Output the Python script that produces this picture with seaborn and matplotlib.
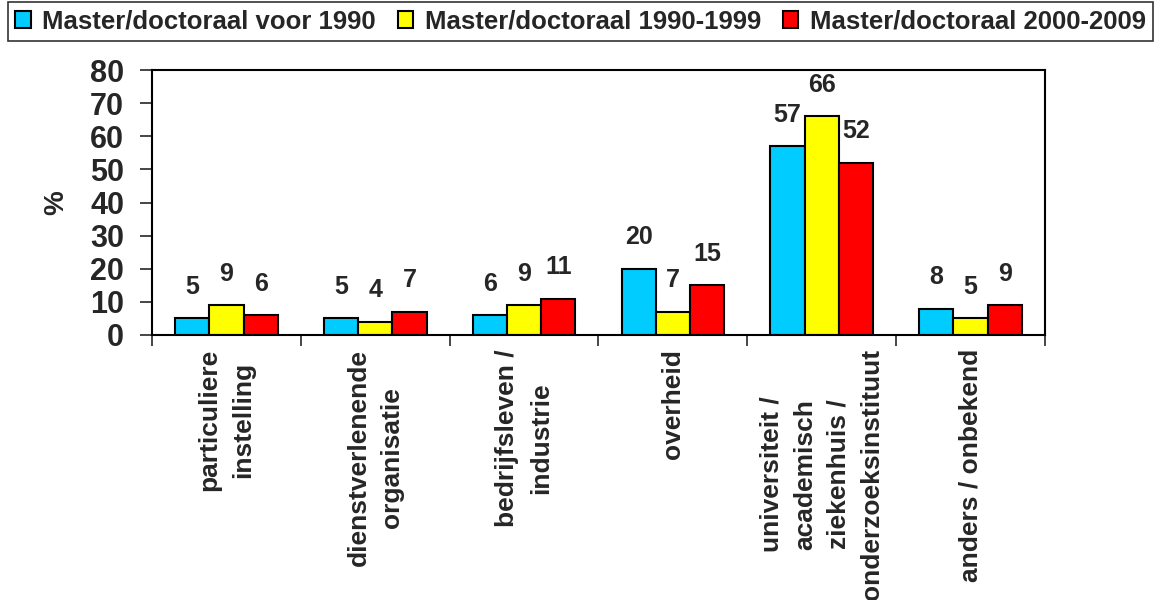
#!/usr/bin/env python3
import matplotlib
matplotlib.use("Agg")
import matplotlib.pyplot as plt
from matplotlib.patches import Patch
import numpy as np
import pandas as pd
import seaborn as sns

CATEGORIES = [
    "particuliere\ninstelling",
    "dienstverlenende\norganisatie",
    "bedrijfsleven /\nindustrie",
    "overheid",
    "universiteit /\nacademisch\nziekenhuis /\nonderzoeksinstituut",
    "anders / onbekend",
]
SERIES = [
    "Master/doctoraal voor 1990",
    "Master/doctoraal 1990-1999",
    "Master/doctoraal 2000-2009",
]
VOOR_1990 = [5, 5, 6, 20, 57, 8]
JAREN_90 = [9, 4, 9, 7, 66, 5]
JAREN_00 = [6, 7, 11, 15, 52, 9]
YTICKS = [0, 10, 20, 30, 40, 50, 60, 70, 80]

COLORS = ["#00CCFF", "#FFFF00", "#FF0000"]
BLACK = "#000000"
FONT = "Liberation Sans"


def build_frame() -> pd.DataFrame:
    rows = []
    for name, vals in zip(SERIES, [VOOR_1990, JAREN_90, JAREN_00]):
        for cat, v in zip(CATEGORIES, vals):
            rows.append({"categorie": cat, "reeks": name, "pct": v})
    return pd.DataFrame(rows)


def main() -> None:
    sns.set_style("white")
    plt.rcParams["font.family"] = [FONT, "DejaVu Sans"]
    plt.rcParams["font.weight"] = "bold"

    df = build_frame()
    fig = plt.figure(figsize=(11.61, 6.0), dpi=100)
    ax = fig.add_axes([152 / 1161, 1 - 335 / 600, 893 / 1161, 265 / 600])

    sns.barplot(
        data=df,
        x="categorie",
        y="pct",
        hue="reeks",
        order=CATEGORIES,
        hue_order=SERIES,
        palette=COLORS,
        saturation=1,
        width=0.69,
        edgecolor=BLACK,
        linewidth=1.5,
        errorbar=None,
        legend=False,
        ax=ax,
    )
    for cont in ax.containers:
        ax.bar_label(cont, fmt="%.0f", padding=14, fontsize=18, fontweight="bold")

    ax.set_xlim(-0.5, len(CATEGORIES) - 0.5)
    ax.set_ylim(0, 80)
    ax.set_yticks(YTICKS)
    ax.set_yticklabels([str(t) for t in YTICKS], fontsize=22, fontweight="bold")
    ax.tick_params(axis="y", direction="out", length=9, width=1.2, pad=11, left=True)

    ax.set_xticks(np.arange(len(CATEGORIES)))
    ax.set_xticklabels(CATEGORIES, rotation=90, fontsize=19, fontweight="bold",
                       ha="center", va="top", multialignment="center", linespacing=1.5)
    ax.tick_params(axis="x", which="major", length=0, pad=10)
    ax.set_xticks(np.arange(-0.5, len(CATEGORIES)), minor=True)
    ax.tick_params(axis="x", which="minor", direction="out", length=8, width=1.2, bottom=True)

    ax.set_xlabel("")
    ax.set_ylabel("%", fontsize=20, fontweight="bold", labelpad=15)

    for sp in ax.spines.values():
        sp.set_visible(True)
        sp.set_color(BLACK)
        sp.set_linewidth(1.5)

    handles = [Patch(facecolor=c, edgecolor=BLACK, linewidth=1.5) for c in COLORS]
    leg = fig.legend(
        handles,
        SERIES,
        loc="upper center",
        bbox_to_anchor=(0.5, 0.997),
        ncol=3,
        fontsize=18.5,
        frameon=True,
        fancybox=False,
        edgecolor=BLACK,
        handlelength=0.6,
        handleheight=0.6,
        handletextpad=0.45,
        columnspacing=0.85,
        borderpad=0.3,
        borderaxespad=0,
    )
    leg.get_frame().set_linewidth(1.2)
    for t in leg.get_texts():
        t.set_fontweight("bold")

    fig.savefig("out.png", dpi=100, facecolor="white")
    plt.close(fig)


if __name__ == "__main__":
    main()
